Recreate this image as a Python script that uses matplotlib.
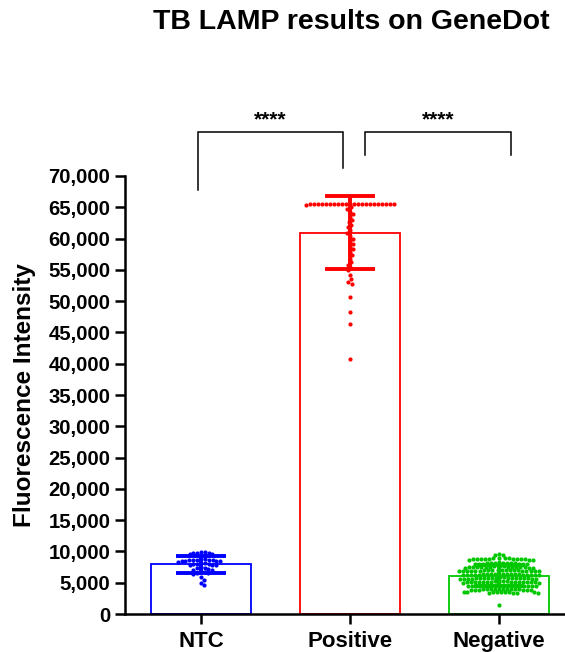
import numpy as np
import matplotlib
matplotlib.use("Agg")
import matplotlib.pyplot as plt

plt.rcParams['font.family'] = ['Liberation Sans', 'DejaVu Sans']
plt.rcParams['font.weight'] = 'bold'

categories = ["NTC", "Positive", "Negative"]
colors = ["#0000FF", "#FF0000", "#00C800"]

ntc_values = [
    9950, 9880, 9820, 9760, 9700, 9620, 9540,
    8820, 8760, 8710, 8680, 8640, 8600, 8560, 8520, 8480, 8440, 8400, 8360,
    8180, 8120, 8060, 8000, 7950, 7900, 7840, 7800,
    7500, 7400, 7300, 7200, 7100, 7000,
    6800, 6700, 6600, 6500, 6400,
    5900, 5500, 4900, 4600,
]

positive_values = [
    65600, 65600, 65600, 65600, 65600, 65600, 65600, 65600, 65600, 65600, 65600,
    65600, 65600, 65600, 65600, 65600, 65600, 65600, 65600, 65600, 65600, 65600,
    65300, 65000,
    64800, 64200, 63900, 63500, 63000, 62600, 62100, 61800, 61300, 60900,
    60400, 60000, 59600, 59200, 58700, 58300, 57800, 57300, 56800, 56200,
    55700, 55300, 55000,
    54200, 53600, 53100, 52800, 50600, 48200, 46300, 40800,
]

negative_values = [
    9600, 9450, 9350,
    8950, 8920, 8900, 8880, 8860, 8840, 8820, 8800, 8790, 8780, 8760, 8740,
    8720, 8700, 8680, 8650,
    8250, 8220, 8190, 8160, 8140, 8120, 8100, 8080, 8060, 8040, 8020, 8000,
    7980, 7950,
    7650, 7620, 7600, 7580, 7560, 7540, 7520, 7500, 7490, 7480, 7470, 7460,
    7450, 7440, 7420, 7400, 7380,
    7080, 7060, 7040, 7020, 7000, 6990, 6980, 6970, 6960, 6950, 6940, 6930,
    6920, 6910, 6900, 6890, 6880, 6870, 6860, 6850,
    6460, 6440, 6420, 6400, 6380, 6360, 6350, 6340, 6330, 6320, 6310, 6300,
    6290, 6280, 6270, 6260, 6250, 6240, 6230, 6220,
    5860, 5840, 5820, 5800, 5780, 5760, 5750, 5740, 5730, 5720, 5710, 5700,
    5690, 5680, 5670, 5660, 5650, 5640, 5630, 5620,
    5260, 5240, 5220, 5200, 5180, 5160, 5150, 5140, 5130, 5120, 5110, 5100,
    5090, 5080, 5070, 5060, 5050, 5040, 5030, 5020,
    4660, 4640, 4620, 4600, 4580, 4560, 4550, 4540, 4530, 4520, 4510, 4500,
    4490, 4480, 4470, 4460, 4450, 4440,
    4060, 4040, 4020, 4000, 3980, 3960, 3950, 3940, 3930, 3920, 3910, 3900,
    3890, 3880, 3870, 3860,
    3560, 3540, 3520, 3500, 3480, 3460, 3450, 3440, 3430, 3420, 3410, 3400,
    1400,
]

groups = [ntc_values, positive_values, negative_values]

# significance brackets: (x_left, x_right, y_top, y_left_end, y_right_end, label)
brackets = [
    (-0.02, 0.953, 77000, 67800, 71300, "****"),
    (1.10, 2.08, 77000, 73400, 73400, "****"),
]

W, H = 565, 652
fig = plt.figure(figsize=(W / 100, H / 100), dpi=100)
ax = fig.add_axes([125 / W, 38 / H, 1 - 125 / W, 438 / H])

YMAX = 70000
XMIN, XMAX = -0.51, 2.443
ax.set_xlim(XMIN, XMAX)
ax.set_ylim(0, YMAX)

# pixel scale of the axes, used to lay out the scatter without overlap
px_per_y = 438 / YMAX
px_per_x = (W - 125) / (XMAX - XMIN)


def swarm_offsets(vals, diam_px=3.8, step_px=0.25):
    """Horizontal offsets (data units) that keep dots from overlapping."""
    y = np.asarray(vals, float) * px_per_y
    order = np.argsort(-y)
    xs = np.zeros(len(y))
    placed = []
    for i in order:
        k = 0
        while True:
            for sign in ((1,) if k == 0 else (1, -1)):
                cand = sign * k * step_px
                ok = True
                for (px, py) in placed:
                    if (cand - px) ** 2 + (y[i] - py) ** 2 < diam_px ** 2:
                        ok = False
                        break
                if ok:
                    break
            if ok:
                break
            k += 1
        xs[i] = cand
        placed.append((cand, y[i]))
    return xs / px_per_x


x = np.arange(len(categories))
means = [np.mean(g) for g in groups]
sds = [np.std(g, ddof=1) for g in groups]

bar_w = 100 / px_per_x
ax.bar(x, means, width=bar_w, facecolor="white", edgecolor=colors,
       linewidth=1.3, zorder=1)

for xi, vals, c in zip(x, groups, colors):
    off = swarm_offsets(vals)
    ax.scatter(xi + off, vals, s=9, color=c, linewidths=0, zorder=3)

for xi, m, s, c in zip(x, means, sds, colors):
    ax.errorbar(xi, m, yerr=s, fmt="none", ecolor=c, elinewidth=2.8,
                capsize=18, capthick=2.8, zorder=4)

for (x0, x1, yt, yl, yr, lab) in brackets:
    ax.plot([x0, x0, x1, x1], [yl, yt, yt, yr], color="black", lw=1.1,
            clip_on=False, solid_joinstyle="miter", zorder=5)
    ax.text((x0 + x1) / 2, yt + 400, lab, ha="center", va="bottom",
            fontsize=15, fontweight="bold", clip_on=False)

for side in ("top", "right"):
    ax.spines[side].set_visible(False)
for side in ("left", "bottom"):
    ax.spines[side].set_linewidth(1.8)

ax.set_yticks(np.arange(0, YMAX + 1, 5000))
ax.set_yticklabels([f"{v:,}" for v in range(0, YMAX + 1, 5000)],
                   fontsize=14.6, fontweight="bold")
ax.set_xticks(x)
ax.set_xticklabels(categories, fontsize=16, fontweight="bold")
ax.tick_params(axis="y", length=7, width=1.8, pad=3.5)
ax.tick_params(axis="x", length=7, width=1.8, pad=5)

fig.text(25 / W, 1 - 395 / H, "Fluorescence Intensity", rotation=90,
         ha="center", va="center", fontsize=17.5, fontweight="bold")
fig.text(351 / W, 1 - 22 / H, "TB LAMP results on GeneDot", ha="center",
         va="center", fontsize=20.5, fontweight="bold")

fig.savefig("out.png", dpi=100, facecolor="white")
